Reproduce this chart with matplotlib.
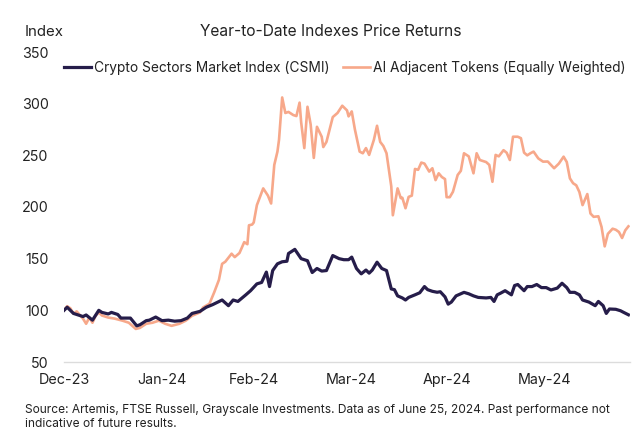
import pandas as pd
import numpy as np
import matplotlib
matplotlib.use('Agg')
import matplotlib.pyplot as plt
import matplotlib.dates as mdates

# day offsets from 31 Dec 2023 and index levels
csmi_days = [0, 1, 3, 5, 6, 7, 9, 11, 12, 14, 15, 17, 18, 21, 23, 24, 26, 27, 29, 31,
             33, 35, 37, 39, 40.5, 43, 45, 47, 50, 52, 53.5, 55, 57.5, 59, 61, 62.5, 64, 65,
             66, 67.5, 69, 70.5, 71, 73, 75, 77, 78.5, 80, 81.5, 83, 85, 87, 88.5, 90, 91,
             92.5, 94, 95.5, 96.5, 97.5, 99, 100.5, 102, 103.5, 104.5, 105.5, 107, 108, 109,
             111, 112.5, 114, 115, 116.5, 118, 119, 120.5, 121.5, 122.5, 124, 126.5, 128,
             129.5, 131, 133.5, 135, 136, 137, 138, 139.5, 140.5, 141.5, 142.5, 143.5, 144.5,
             145.5, 146.5, 148, 149.5, 151, 152.5, 154, 156, 157.5, 159, 160, 161.5, 163, 164,
             166, 168, 169, 170.5, 171.5, 172.5, 174.5, 176, 177, 178.5]
csmi_vals = [100, 103, 97, 95, 94, 95.5, 90.5, 100, 98, 96.5, 98, 96, 92.5, 92.5, 85, 86, 90, 90.5, 93.5, 90,
             90.5, 89.5, 90, 92.5, 97, 99, 103, 105.5, 110, 104.5, 110, 108.6, 115, 119, 125.6, 127, 137, 123,
             138.5, 145, 147, 147.5, 155, 159, 150, 148, 136.6, 140.5, 138, 138.5, 153, 150, 149, 149, 151.5,
             140.5, 135.3, 139, 136, 139, 146.6, 140.5, 138.5, 120.7, 120, 114, 112, 110, 112.5,
             115, 117, 123, 120, 118.4, 117.5, 118, 113, 106, 108, 114, 117.4, 116,
             114, 112.5, 112, 112.5, 108.6, 115, 116.5, 119, 117, 115, 124, 125, 122,
             119, 123, 123, 125, 122, 122, 119.7, 121.5, 126.2, 122, 117.4, 117.4, 115, 110,
             108, 104.5, 108.6, 104.5, 97, 101.3, 101, 99.6, 98, 95.7]

ai_days = [0, 1, 2, 3, 4, 6, 7, 8, 9, 10, 11, 12, 14, 16, 18.5, 20.5, 22.7, 24, 26, 28,
           30, 32, 34, 36.5, 38.5, 40.5, 43, 44, 46, 47.5, 49, 50, 51, 53, 54, 55.5, 57, 58,
           58.5, 59.5, 60, 61, 63, 64.5, 65.5, 66.5, 67.5, 68, 69, 70, 71, 72.5, 73.5, 74.5,
           75, 76, 77, 78, 79, 80, 81.5, 82, 83, 85, 86.5, 88, 89.5, 90, 91, 92, 93.5, 94.5,
           95.5, 96.5, 98, 99, 100, 101, 102, 103.5, 104, 105.5, 106.5, 107, 108, 109, 110,
           111, 112, 113, 114, 115.5, 116.5, 117.5, 118.5, 119.5, 120.5, 121, 122, 123, 124.5,
           125.5, 126.5, 128, 129.5, 130.5, 131.5, 133.5, 134.5, 135.5, 136.5, 137.5, 139, 140,
           141, 142, 143.5, 144.5, 145.5, 146.5, 147.5, 148.5, 150, 151.5, 153, 155, 156.5, 158,
           159, 160, 161, 162, 163, 164, 165.5, 166.5, 167.5, 169, 170, 171, 172, 173.5, 174.5,
           175.5, 176.5, 177.5, 178.5]
ai_vals = [100, 104, 102, 96.7, 99, 92, 87, 93, 88, 94.7, 98, 95, 93, 92, 90, 88, 82, 83, 87, 88,
           90, 87, 85, 87, 90, 94.7, 98, 102.8, 106.4, 117.4, 129.5, 145, 147, 154.8, 151.5, 155.5, 166, 164,
           182.3, 183, 185, 201.8, 218, 211, 203.4, 240.7, 253.6, 265, 306, 291, 292, 289, 288, 301,
           282, 257, 297, 280, 247.5, 277.6, 268, 258, 263, 287, 291, 298, 293.5, 287.7, 292.5, 275, 253.6, 252,
           257, 250.4, 265, 278.6, 263, 259, 252, 220, 192, 218, 208.6, 209, 198.8, 209.8, 211,
           236.8, 236, 243, 242, 234.3, 237.5, 226, 232.6, 229, 227, 209.5, 209.5, 214.7, 231,
           235, 252, 249, 232.6, 252, 245.5, 243.5, 240.7, 224.4, 250.4, 249, 255, 252.5,
           245.5, 268, 268, 266.6, 252.6, 250, 252, 253.6, 247, 243.9, 244, 237.5, 242, 248.7,
           243.5, 227.7, 223, 221, 214.5, 201.8, 212.5, 193.7, 190.5, 191, 180.7, 161.9, 174, 179, 178,
           175.8, 170, 177.4, 181.3]

start = pd.Timestamp('2023-12-31')
month_ends = ['2023-12-31', '2024-01-31', '2024-02-29', '2024-03-31', '2024-04-30', '2024-05-31']
y_ticks = [50, 100, 150, 200, 250, 300, 350]

csmi_dates = start + pd.to_timedelta(csmi_days, unit='D')
ai_dates = start + pd.to_timedelta(ai_days, unit='D')

plt.rcParams['font.family'] = ['Inter', 'DejaVu Sans']

navy = '#261d4a'
salmon = '#f7a88a'
grey_txt = '#222222'

fig = plt.figure(figsize=(6.35, 4.47), dpi=100)
ax = fig.add_axes([64/635, 1 - 362/447, 566/635, 310/447])

ax.plot(ai_dates, ai_vals, color=salmon, lw=1.9, label='AI Adjacent Tokens (Equally Weighted)', zorder=2)
ax.plot(csmi_dates, csmi_vals, color=navy, lw=2.3, label='Crypto Sectors Market Index (CSMI)', zorder=3)

ax.set_ylim(50, 350)
ax.set_yticks(y_ticks)
ax.set_xlim(start, start + pd.Timedelta(days=179))
ax.set_xticks(pd.to_datetime(month_ends))
ax.xaxis.set_major_formatter(mdates.DateFormatter('%b-%y'))

for s in ['top', 'right', 'left']:
    ax.spines[s].set_visible(False)
ax.spines['bottom'].set_color('#dcdcdc')
ax.spines['bottom'].set_linewidth(1.0)
ax.tick_params(axis='both', length=0, labelsize=10.3, colors=grey_txt)
ax.tick_params(axis='y', pad=11)
ax.tick_params(axis='x', pad=8)

# legend: navy first
handles, labels = ax.get_legend_handles_labels()
fig.legend(handles[::-1], labels[::-1], loc='center left', bbox_to_anchor=(52/635, 1 - 68/447),
           ncol=2, frameon=False, fontsize=9.9, handlelength=1.95, handletextpad=0.2,
           columnspacing=1.0, labelcolor=grey_txt)

fig.text(25/635, 1 - 32/447, 'Index', fontsize=10.8, va='center', ha='left', color=grey_txt)
fig.text(331/635, 1 - 32/447, 'Year-to-Date Indexes Price Returns', fontsize=11.2,
         va='center', ha='center', color=grey_txt)
fig.text(25/635, 1 - 410/447, 'Source: Artemis, FTSE Russell, Grayscale Investments. Data as of June 25, 2024. Past performance not',
         fontsize=8.6, va='center', ha='left', color=grey_txt)
fig.text(25/635, 1 - 424/447, 'indicative of future results.',
         fontsize=8.6, va='center', ha='left', color=grey_txt)

fig.savefig('out.png', dpi=100)
